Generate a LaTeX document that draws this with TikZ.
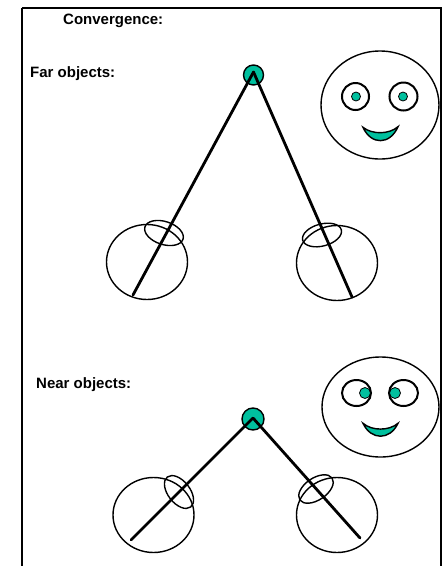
\documentclass[tikz,border=0pt]{standalone}
\usepackage{fontspec}
\setmainfont{Liberation Sans}
\usepackage{tikz}
\usetikzlibrary{shapes.geometric}
\definecolor{iris}{RGB}{0,192,158}

\begin{document}
\begin{tikzpicture}[x=1pt, y=1pt,
  lbl/.style={anchor=west, inner sep=0pt, font=\fontsize{15}{17}\selectfont\bfseries},
  eyeball/.style={draw, ellipse, line width=1.4pt, inner sep=0pt, minimum width=81, minimum height=75},
  lens/.style={draw, line width=1.4pt},
  target/.style={draw, line width=1.4pt, circle, fill=iris, inner sep=0pt, minimum size=20},
  sight/.style={line width=2.8pt, line cap=round},
  head/.style={draw, ellipse, line width=1.4pt, inner sep=0pt},
  pupil/.style={circle, fill=iris, draw, line width=0.8pt, inner sep=0pt}]
\useasboundingbox (0,0) rectangle (446,-566);
% open frame
\draw[line width=1.8pt] (22,-8) -- (441,-8) -- (441,-566);
\draw[line width=2.8pt] (22,-566) -- (22,-8);

\node[lbl] (title) at (63,-21) {Convergence:};
\node[lbl] (far)   at (30,-74) {Far objects:};
\node[lbl] (near)  at (36,-385) {Near objects:};

% far objects
\node[target] (fardot) at (253.5,-75) {};
\node[eyeball] (farLeye) at (147,-262) {};
\node[eyeball] (farReye) at (337,-263) {};
\draw[lens] (164,-233) ellipse [x radius=20, y radius=11.5, rotate=-18];
\draw[lens] (322,-235) ellipse [x radius=20, y radius=11, rotate=15];
\coordinate (farL) at (133,-295);
\coordinate (farR) at (352,-297);
\draw[sight] ([yshift=3]fardot.center) -- (farL);
\draw[sight] ([yshift=3]fardot.center) -- (farR);

\node[head, minimum width=118, minimum height=108] (farface) at (380,-105) {};
\node[head, line width=2pt, minimum size=27] (farLo) at (355.5,-96.5) {};
\node[head, line width=2pt, minimum size=28] (farRo) at (403.5,-96.5) {};
\node[pupil, minimum size=9] at (356,-96.5) {};
\node[pupil, minimum size=9] at (403,-96.5) {};
\draw[line width=1.4pt, fill=iris] (363,-127.3) .. controls (372,-134.6) and (389,-134.6) .. (398,-126.7)
  .. controls (390,-145.2) and (371,-145.2) .. cycle;

% near objects
\node[target, minimum size=22] (neardot) at (253,-419) {};
\node[eyeball] (nearLeye) at (153.5,-515) {};
\node[eyeball] (nearReye) at (337,-515) {};
\draw[lens] (179,-492) ellipse [x radius=19, y radius=11, rotate=-52];
\draw[lens] (316,-489) ellipse [x radius=19.5, y radius=11, rotate=34];
\coordinate (nearL) at (131,-540);
\coordinate (nearR) at (360,-538);
\draw[sight] ([yshift=1]neardot.center) -- (nearL);
\draw[sight] ([yshift=1]neardot.center) -- (nearR);

\node[head, minimum width=117, minimum height=100] (nearface) at (380.5,-407) {};
\node[head, line width=2pt, minimum width=29, minimum height=26] (nearLo) at (356.5,-393) {};
\node[head, line width=2pt, minimum width=29, minimum height=26] (nearRo) at (403.5,-393) {};
\node[pupil, minimum size=11] at (365,-393) {};
\node[pupil, minimum size=11] at (395,-393) {};
\draw[line width=1.4pt, fill=iris] (363,-423.3) .. controls (372,-431) and (389,-431) .. (398,-423.3)
  .. controls (390,-440.5) and (371,-440.5) .. cycle;
\end{tikzpicture}
\end{document}
